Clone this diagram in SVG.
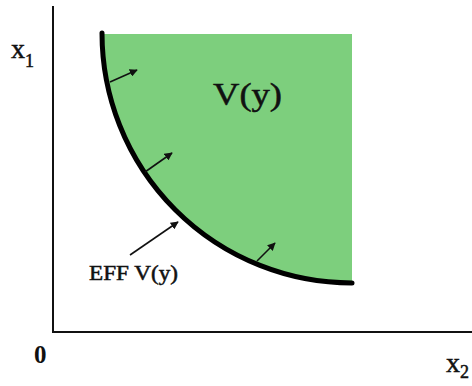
<svg xmlns="http://www.w3.org/2000/svg" width="472" height="386" viewBox="0 0 472 386">
<style>
.t{font-family:"Liberation Serif","Times New Roman",serif;fill:#111}
.h{stroke:#111;stroke-width:0.5}
.ax{stroke:#111;stroke-width:2;fill:none}
.ar{stroke:#111;stroke-width:1.6;fill:none;marker-end:url(#ah)}
</style>
<defs>
<marker id="ah" viewBox="0 0 10 10" refX="9" refY="5" markerWidth="5" markerHeight="5" orient="auto" markerUnits="strokeWidth">
<path d="M0,0 L10,5 L0,10 Z" fill="#111"/>
</marker>
</defs>
<rect width="472" height="386" fill="#fff"/>
<g id="region">
<path d="M102,34 L352,34 L352,283 A250,250 0 0 1 102,34 Z" fill="#7dcf7d"/>
</g>
<g id="axes">
<path class="ax" d="M53,6 L53,332 L472,332"/>
</g>
<g id="frontier">
<path d="M102,33 A250,250 0 0 0 352,283" fill="none" stroke="#000" stroke-width="5" stroke-linecap="round"/>
</g>
<g id="connectors">
<line class="ar" x1="110" y1="82" x2="137" y2="70"/>
<line class="ar" x1="145" y1="172" x2="172" y2="153"/>
<line class="ar" x1="257" y1="261" x2="275" y2="243"/>
<line class="ar" x1="130" y1="255" x2="178" y2="222"/>
</g>
<g id="labels">
<text class="t h" x="11" y="58" font-size="28">x<tspan font-size="18" dy="9">1</tspan></text>
<text class="t" x="34" y="363" font-size="25" font-weight="bold">0</text>
<text class="t h" x="446" y="372" font-size="28">x<tspan font-size="18" dy="6">2</tspan></text>
<text class="t h" x="213" y="105" font-size="31" textLength="69" lengthAdjust="spacingAndGlyphs">V(y)</text>
<text class="t h" x="89" y="280" font-size="20" textLength="89" lengthAdjust="spacingAndGlyphs">EFF V(y)</text>
</g>
</svg>
